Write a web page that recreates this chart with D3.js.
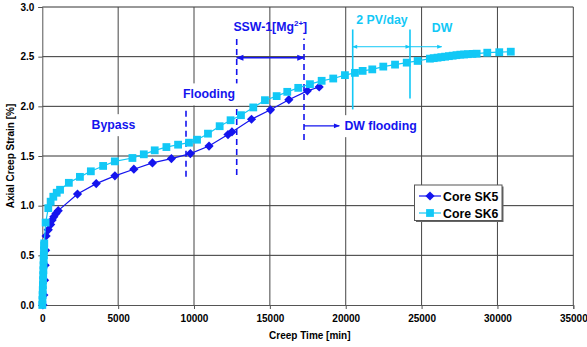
<!DOCTYPE html>
<html><head><meta charset="utf-8">
<script src="https://cdn.jsdelivr.net/npm/d3@7"></script>
<style>
html,body{margin:0;padding:0;background:#fff;}
svg text{font-family:"Liberation Sans",Arial,sans-serif;font-weight:bold;}
</style></head>
<body><svg id="c" width="587" height="347"></svg>
<script>
// ---- data ----
const seriesNames = ["Core SK5", "Core SK6"];
const sk5 = [[40,0.0],[100,0.1],[150,0.25],[190,0.4],[220,0.55],[250,0.695],[395,0.757],[550,0.81],[650,0.855],[760,0.888],[900,0.92],[1050,0.95],[2320,1.117],[3555,1.222],[4785,1.30],[6035,1.367],[7260,1.43],[8510,1.474],[9760,1.524],[10990,1.60],[12240,1.716],[12500,1.742],[13790,1.87],[15040,1.965],[16250,2.067],[17470,2.156],[18250,2.195]];
const sk6 = [[0,0.0],[10,0.05],[20,0.1],[30,0.15],[40,0.2],[50,0.25],[60,0.3],[70,0.35],[80,0.4],[90,0.45],[100,0.5],[110,0.55],[120,0.6],[130,0.62],[220,0.83],[395,0.975],[550,1.04],[725,1.09],[950,1.13],[1170,1.16],[1750,1.23],[2480,1.29],[3200,1.346],[4010,1.40],[4780,1.446],[5940,1.48],[6690,1.517],[7410,1.557],[8180,1.59],[8950,1.614],[9670,1.634],[10200,1.664],[10920,1.725],[11690,1.80],[12410,1.86],[13094,1.911],[13906,1.989],[14676,2.062],[15447,2.103],[16146,2.146],[16870,2.186],[17642,2.223],[18412,2.257],[19177,2.28],[19948,2.314],[20607,2.337],[21115,2.357],[21750,2.372],[22475,2.40],[23250,2.42],[24020,2.44],[24740,2.457],[25550,2.48],[25800,2.485],[26050,2.49],[26300,2.495],[26550,2.50],[26800,2.505],[27050,2.51],[27300,2.515],[27550,2.52],[27800,2.522],[28050,2.525],[28350,2.528],[28630,2.53],[29330,2.54],[30120,2.545],[30880,2.55]];
const xTicks = [0,5000,10000,15000,20000,25000,30000,35000];
const yTicks = [0.0,0.5,1.0,1.5,2.0,2.5,3.0];
const xTitle = "Creep Time [min]";
const yTitle = "Axial Creep Strain [%]";
// annotations in data units
const blueDashed = [[9472,1.29,1.995],[12814,1.308,2.683],[17250,1.66,2.683]];
const cyanLines = [[20460,1.969,2.774],[24236,2.08,2.774]];
const labels = [
  {t:"Bypass", x:4690, y:1.77, c:"blue", bg:true},
  {t:"Flooding", x:10990, y:2.08, c:"blue", bg:true},
  {t:"DW flooding", x:22300, y:1.76, c:"blue", bg:true},
  {t:"2 PV/day", x:22390, y:2.83, c:"cyan", bg:false},
  {t:"DW", x:26350, y:2.75, c:"cyan", bg:false}
];

const BLUE = "#1414ee", CYAN = "#12c8f6";
const svg = d3.select("#c");
const x = d3.scaleLinear().domain([0,35000]).range([42.3,573.3]);
const y = d3.scaleLinear().domain([0,3]).range([305,7]);

const defs = svg.append("defs");
function marker(id,color){
  defs.append("marker").attr("id",id).attr("viewBox","0 0 10 10").attr("refX",9).attr("refY",5)
    .attr("markerWidth",6).attr("markerHeight",5).attr("orient","auto-start-reverse")
    .append("path").attr("d","M0,1L10,5L0,9Z").attr("fill",color);
}
marker("ab",BLUE); marker("ac",CYAN);

// grid
const g = svg.append("g");
g.selectAll(".hg").data(yTicks.filter(d=>d>0)).join("line")
  .attr("x1",x(0)).attr("x2",x(35000)).attr("y1",d=>y(d)).attr("y2",d=>y(d))
  .attr("stroke","#333").attr("stroke-width",1);
g.selectAll(".vg").data(xTicks.filter(d=>d>0)).join("line")
  .attr("x1",d=>x(d)).attr("x2",d=>x(d)).attr("y1",y(0)).attr("y2",y(3))
  .attr("stroke","#444").attr("stroke-width",1);

// axes
const xa = svg.append("g").attr("transform",`translate(0,${y(0)})`)
  .call(d3.axisBottom(x).tickValues(xTicks).tickFormat(d3.format("d")).tickSize(4).tickPadding(6));
const ya = svg.append("g").attr("transform",`translate(${x(0)},0)`)
  .call(d3.axisLeft(y).tickValues(yTicks).tickFormat(d3.format(".1f")).tickSize(4).tickPadding(4));
[xa,ya].forEach(a=>{a.selectAll("path,line").attr("stroke","#555");a.selectAll("text").attr("font-size",10).attr("fill","#000");});

svg.append("text").attr("x",(x(0)+x(35000))/2+2).attr("y",339).attr("text-anchor","middle")
  .attr("font-size",10).text(xTitle);
svg.append("text").attr("transform",`translate(13.5,${(y(0)+y(3))/2})rotate(-90)`).attr("text-anchor","middle")
  .attr("font-size",10).text(yTitle);

// annotation lines
svg.selectAll(".bd").data(blueDashed).join("line")
  .attr("x1",d=>x(d[0])).attr("x2",d=>x(d[0])).attr("y1",d=>y(d[1])).attr("y2",d=>y(d[2]))
  .attr("stroke",BLUE).attr("stroke-width",1.6).attr("stroke-dasharray","6,4");
svg.selectAll(".cl").data(cyanLines).join("line")
  .attr("x1",d=>x(d[0])).attr("x2",d=>x(d[0])).attr("y1",d=>y(d[1])).attr("y2",d=>y(d[2]))
  .attr("stroke",CYAN).attr("stroke-width",1.6);
svg.append("line").attr("x1",x(12814)).attr("x2",x(17250)).attr("y1",y(2.49)).attr("y2",y(2.49))
  .attr("stroke",BLUE).attr("stroke-width",1.5).attr("marker-start","url(#ab)").attr("marker-end","url(#ab)");
svg.append("line").attr("x1",x(17250)).attr("x2",x(19577)).attr("y1",y(1.804)).attr("y2",y(1.804))
  .attr("stroke",BLUE).attr("stroke-width",1.2).attr("marker-end","url(#ab)");
svg.append("line").attr("x1",x(20460)).attr("x2",x(24236)).attr("y1",y(2.6)).attr("y2",y(2.6))
  .attr("stroke",CYAN).attr("stroke-width",1).attr("marker-start","url(#ac)").attr("marker-end","url(#ac)");
svg.append("line").attr("x1",x(24236)).attr("x2",x(26326)).attr("y1",y(2.6)).attr("y2",y(2.6))
  .attr("stroke",CYAN).attr("stroke-width",1).attr("marker-end","url(#ac)");

// labels (with white boxes where the original has them)
const lab = svg.append("g");
labels.forEach(l=>{
  const t = lab.append("text").attr("x",x(l.x)).attr("y",y(l.y)).attr("text-anchor","middle")
    .attr("font-size",12.3).attr("fill",l.c==="blue"?BLUE:CYAN).text(l.t);
  if(l.bg){const b=t.node().getBBox();
    lab.insert("rect","text").attr("x",b.x-3).attr("y",b.y-4).attr("width",b.width+6).attr("height",b.height+8).attr("fill","#fff");}
});
const ssw = lab.append("text").attr("x",x(15030)).attr("y",y(2.76)).attr("text-anchor","middle").attr("font-size",12.3).attr("fill",BLUE);
ssw.append("tspan").text("SSW-1[Mg");
ssw.append("tspan").attr("dy",-5).attr("font-size",8).text("2+");
ssw.append("tspan").attr("dy",5).text("]");

// series
const line = d3.line().x(d=>x(d[0])).y(d=>y(d[1]));
const diamond = "M0,-4.6L4.6,0L0,4.6L-4.6,0Z";
const square = "M-3.9,-3.9H3.9V3.9H-3.9Z";
svg.append("path").datum(sk5).attr("d",line).attr("fill","none").attr("stroke",BLUE).attr("stroke-width",1.2);
svg.selectAll(".p5").data(sk5).join("path").attr("d",diamond)
  .attr("transform",d=>`translate(${x(d[0])},${y(d[1])})`).attr("fill",BLUE);
svg.append("path").datum(sk6).attr("d",line).attr("fill","none").attr("stroke",CYAN).attr("stroke-width",1.2);
svg.selectAll(".p6").data(sk6).join("path").attr("d",square)
  .attr("transform",d=>`translate(${x(d[0])},${y(d[1])})`).attr("fill",CYAN);

// legend
const lg = svg.append("g");
lg.append("rect").attr("x",416).attr("y",186.5).attr("width",87.5).attr("height",35.5).attr("fill","#666");
lg.append("rect").attr("x",414.5).attr("y",185).attr("width",87.5).attr("height",35.5).attr("fill","#fff").attr("stroke","#555").attr("stroke-width",1);
[[BLUE,diamond,196],[CYAN,square,213]].forEach((e,i)=>{
  lg.append("line").attr("x1",419).attr("x2",441).attr("y1",e[2]).attr("y2",e[2]).attr("stroke",e[0]).attr("stroke-width",1.2);
  lg.append("path").attr("d",e[1]).attr("transform",`translate(430,${e[2]})`).attr("fill",e[0]);
  lg.append("text").attr("x",443).attr("y",e[2]+4.5).attr("font-size",12.3).text(seriesNames[i]);
});
</script></body></html>
